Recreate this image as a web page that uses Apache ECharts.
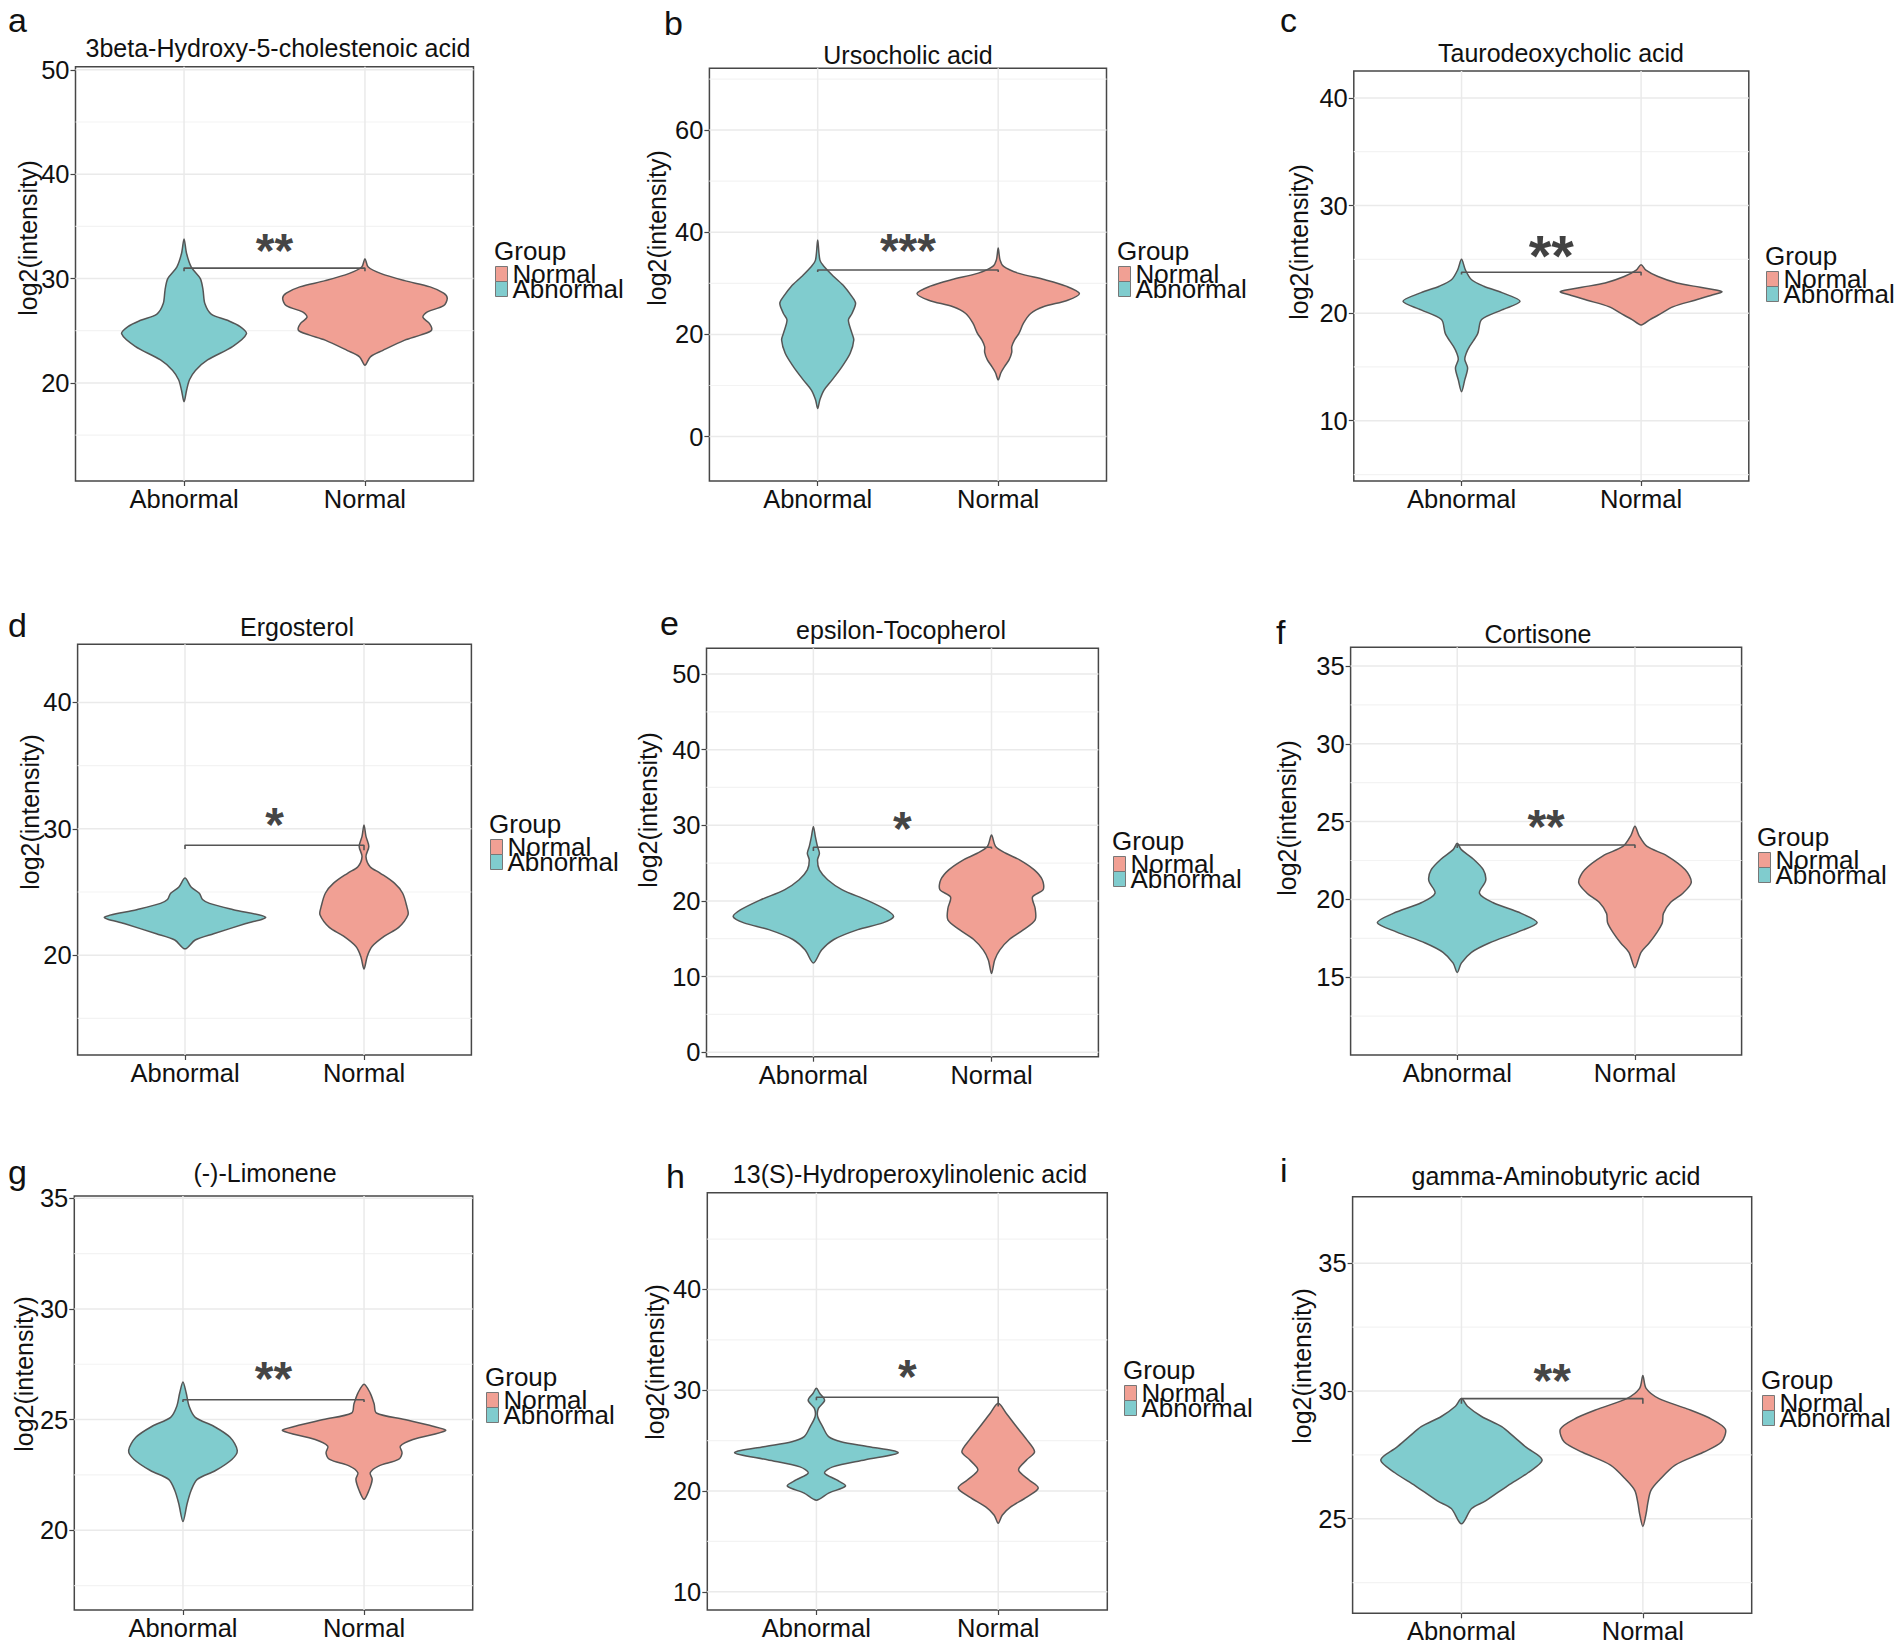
<!DOCTYPE html>
<html>
<head>
<meta charset="utf-8">
<script src="https://cdn.jsdelivr.net/npm/echarts@6/dist/echarts.min.js"></script>
<style>
  html, body { margin: 0; background: #fff; }
  #chart { width: 1902px; height: 1646px; }
</style>
</head>
<body>
<div id="chart"></div>
<script>
const groups = ['Abnormal', 'Normal'];
const letters = ['a', 'b', 'c', 'd', 'e', 'f', 'g', 'h', 'i'];
const titles = ['3beta-Hydroxy-5-cholestenoic acid', 'Ursocholic acid', 'Taurodeoxycholic acid',
  'Ergosterol', 'epsilon-Tocopherol', 'Cortisone',
  '(-)-Limonene', '13(S)-Hydroperoxylinolenic acid', 'gamma-Aminobutyric acid'];
const yMin = [10.6, -8.7, 4.4, 12.1, -0.6, 10.0, 16.4, 8.2, 21.3];
const yMax = [50.3, 72.1, 42.5, 44.6, 53.4, 36.2, 35.1, 49.6, 37.6];
const yTicks = [[20, 30, 40, 50], [0, 20, 40, 60], [10, 20, 30, 40], [20, 30, 40], [0, 10, 20, 30, 40, 50],
  [15, 20, 25, 30, 35], [20, 25, 30, 35], [10, 20, 30, 40], [25, 30, 35]];
const yMinorTicks = [[15, 25, 35, 45], [10, 30, 50, 70], [5, 15, 25, 35], [15, 25, 35], [5, 15, 25, 35, 45],
  [12.5, 17.5, 22.5, 27.5, 32.5], [17.5, 22.5, 27.5, 32.5], [15, 25, 35, 45], [22.5, 27.5, 32.5]];
const stars = ['**', '***', '**', '*', '*', '**', '**', '*', '**'];
const starY = [33.2, 37.5, 26.2, 30.7, 30.3, 25.0, 27.1, 31.9, 30.6];
const bracketY = [31.0, 32.6, 23.8, 28.7, 27.1, 23.5, 25.9, 29.3, 29.7];
const bracketLeftEnd = [30.7, 32.2, 23.6, 28.4, 26.6, 23.3, 25.8, 29.0, 29.5];
const bracketRightEnd = [30.7, 32.2, 23.5, 28.3, 26.9, 23.3, 25.8, 28.4, 29.5];

// violin outlines: [log2(intensity), half width in x units], bottom tip to top tip
const abnormalA = [[18.2,0],[19.3,0.014],[20.3,0.03],[21.2,0.063],[22.2,0.13],[23.5,0.27],[24.7,0.345],[25.4,0.31],[26.0,0.24],[26.6,0.15],[27.6,0.115],[28.9,0.105],[30.0,0.09],[31.1,0.04],[32.4,0.014],[33.8,0]];
const normalA = [[21.7,0],[22.5,0.03],[23.1,0.097],[24.1,0.22],[24.6,0.31],[25.05,0.368],[25.7,0.356],[26.3,0.32],[26.8,0.345],[27.4,0.435],[28.1,0.455],[28.6,0.435],[29.2,0.36],[29.8,0.22],[30.5,0.086],[31.1,0.018],[31.9,0]];
const abnormalB = [[5.5,0],[7.2,0.012],[9.1,0.035],[11.1,0.08],[13.7,0.135],[16.3,0.18],[18.9,0.20],[20.2,0.19],[22.8,0.17],[24.1,0.19],[26.1,0.21],[27.4,0.19],[29.4,0.147],[31.3,0.09],[33.3,0.035],[34.6,0.012],[38.5,0]];
const normalB = [[11.1,0],[12.5,0.015],[13.7,0.035],[15.0,0.06],[16.5,0.075],[17.6,0.075],[18.9,0.09],[20.2,0.115],[22.2,0.14],[24.1,0.18],[25.4,0.25],[26.7,0.385],[28.0,0.45],[29.4,0.38],[30.7,0.26],[32.0,0.11],[33.3,0.03],[34.6,0.01],[36.9,0]];
const abnormalC = [[12.7,0],[13.8,0.018],[14.9,0.034],[15.7,0.018],[16.3,0.027],[16.9,0.045],[18.1,0.09],[19.4,0.112],[20.3,0.225],[21.1,0.326],[21.9,0.225],[22.5,0.124],[23.1,0.056],[24.0,0.022],[25.0,0]];
const normalC = [[18.9,0],[19.4,0.05],[19.8,0.094],[20.6,0.18],[21.2,0.30],[21.7,0.40],[22.0,0.45],[22.4,0.33],[22.8,0.20],[23.4,0.094],[24.0,0.027],[24.5,0]];
const abnormalD = [[20.5,0],[21.2,0.057],[21.7,0.16],[22.5,0.34],[23.0,0.45],[23.6,0.27],[24.1,0.137],[24.4,0.098],[24.9,0.08],[25.4,0.034],[26.1,0]];
const normalD = [[18.9,0],[19.9,0.018],[20.7,0.046],[21.5,0.114],[22.2,0.194],[23.2,0.246],[23.8,0.24],[24.9,0.216],[25.7,0.17],[26.5,0.09],[27.0,0.034],[27.8,0.011],[28.6,0.027],[29.4,0.011],[30.3,0]];
const abnormalE = [[11.8,0],[13.5,0.046],[14.9,0.115],[16.2,0.25],[17.1,0.39],[17.9,0.45],[18.8,0.41],[20.1,0.30],[21.5,0.16],[22.8,0.08],[24.1,0.034],[25.4,0.023],[26.3,0.034],[27.2,0.023],[28.5,0.011],[29.85,0]];
const normalE = [[10.4,0],[12.2,0.018],[13.5,0.046],[14.9,0.10],[16.2,0.18],[17.5,0.245],[19.0,0.245],[20.5,0.23],[21.5,0.29],[22.8,0.285],[24.1,0.24],[25.4,0.16],[26.3,0.08],[27.2,0.023],[28.7,0]];
const abnormalF = [[15.3,0],[15.9,0.023],[16.6,0.08],[17.2,0.18],[17.9,0.34],[18.5,0.45],[19.1,0.36],[19.8,0.20],[20.4,0.125],[21.2,0.16],[21.9,0.147],[22.6,0.09],[23.2,0.023],[23.6,0]];
const normalF = [[15.6,0],[16.6,0.034],[17.2,0.08],[17.9,0.125],[18.5,0.154],[19.1,0.16],[19.8,0.20],[20.4,0.27],[21.1,0.317],[21.9,0.283],[22.8,0.18],[23.4,0.068],[24.1,0.023],[24.7,0]];
const abnormalG = [[20.4,0],[21.2,0.023],[21.8,0.045],[22.3,0.079],[22.7,0.18],[23.2,0.27],[23.6,0.30],[24.2,0.26],[24.7,0.17],[25.1,0.068],[25.6,0.034],[26.2,0.018],[26.7,0]];
const normalG = [[21.4,0],[21.8,0.027],[22.3,0.045],[22.6,0.034],[22.9,0.08],[23.2,0.19],[23.5,0.21],[23.8,0.20],[24.1,0.27],[24.5,0.45],[24.7,0.38],[25.0,0.225],[25.3,0.068],[25.7,0.056],[26.2,0.034],[26.6,0]];
const abnormalH = [[19.1,0],[19.8,0.067],[20.5,0.16],[21.1,0.112],[21.8,0.045],[22.4,0.09],[23.1,0.27],[23.8,0.45],[24.4,0.29],[24.9,0.135],[25.4,0.067],[26.4,0.034],[27.4,0.007],[28.2,0.011],[29.0,0.045],[29.7,0.018],[30.2,0]];
const normalH = [[16.8,0],[17.6,0.022],[18.4,0.067],[19.4,0.157],[20.3,0.22],[21.1,0.17],[22.1,0.112],[23.1,0.157],[23.9,0.20],[25.1,0.157],[26.4,0.10],[27.7,0.045],[28.7,0]];
const abnormalI = [[24.8,0],[25.4,0.056],[25.7,0.133],[26.3,0.256],[26.8,0.367],[27.3,0.445],[27.8,0.356],[28.2,0.29],[28.6,0.222],[29.0,0.111],[29.4,0.033],[29.7,0]];
const normalI = [[24.7,0],[25.2,0.018],[25.6,0.027],[26.1,0.044],[26.5,0.089],[27.1,0.178],[27.6,0.333],[28.0,0.433],[28.5,0.455],[28.9,0.378],[29.3,0.244],[29.7,0.089],[30.1,0.018],[30.6,0]];
const abnormalProfiles = [abnormalA, abnormalB, abnormalC, abnormalD, abnormalE, abnormalF, abnormalG, abnormalH, abnormalI];
const normalProfiles = [normalA, normalB, normalC, normalD, normalE, normalF, normalG, normalH, normalI];

// layout (pixels)
const boxes = [[75.5, 66.7, 473.5, 481], [709.4, 68.3, 1106.5, 481], [1353.8, 71, 1748.8, 481],
  [77.6, 644.3, 471.4, 1055], [706.5, 648.3, 1098.4, 1056.7], [1350.6, 647.3, 1741.6, 1055],
  [74.3, 1196, 472.7, 1610], [707.3, 1192.7, 1107.3, 1610], [1352.6, 1196.7, 1751.7, 1613.3]];
const titlePos = [[278, 48], [908, 55], [1561, 53], [297, 627], [901, 630], [1538, 634], [265, 1173], [910, 1174], [1556, 1176]];
const letterPos = [[8, 20], [664, 23], [1280, 20], [8, 625], [660, 623], [1276, 632], [8, 1172], [666, 1176], [1280, 1170]];
const legendPos = [[495, 267], [1118, 267], [1766, 272], [490, 840], [1113, 857], [1758, 853], [486, 1393], [1124, 1386], [1762, 1396]];
const yTitlePos = [[28, 238], [657, 228], [1299, 242], [30, 812], [648, 810], [1287, 818], [24, 1374], [655, 1362], [1302, 1366]];

const FONT = '"Liberation Sans", Arial, sans-serif';
const TEAL = '#80CCCE';
const CORAL = '#F1A094';
const OUTLINE = '#555555';

function violin(profile, xc) {
  return function (params, api) {
    const right = profile.map(p => api.coord([xc + p[1], p[0]]));
    const left = profile.slice(1, -1).reverse().map(p => api.coord([xc - p[1], p[0]]));
    return {
      type: 'polygon',
      shape: { points: right.concat(left), smooth: 0.3 },
      style: { fill: api.visual('color'), stroke: OUTLINE, lineWidth: 1.5 }
    };
  };
}

const option = {
  animation: false,
  backgroundColor: '#fff',
  textStyle: { fontFamily: FONT },
  grid: [], xAxis: [], yAxis: [], series: [], title: [], legend: [], graphic: []
};

letters.forEach((letter, p) => {
  const b = boxes[p];
  option.grid.push({ left: b[0], top: b[1], width: b[2] - b[0], height: b[3] - b[1],
    show: true, borderColor: '#474747', borderWidth: 1.5, backgroundColor: 'transparent' });
  option.xAxis.push({
    gridIndex: p, type: 'value', min: 0.4, max: 2.6,
    axisLine: { show: false, onZero: false },
    axisTick: { show: true, customValues: [1, 2], length: 5, lineStyle: { color: '#444', width: 1.2 } },
    axisLabel: { customValues: [1, 2], formatter: v => groups[Math.round(v) - 1], fontSize: 25.5, color: '#111', margin: 5, fontFamily: FONT },
    splitLine: { show: false }
  });
  option.yAxis.push({
    gridIndex: p, type: 'value', min: yMin[p], max: yMax[p],
    axisLine: { show: false, onZero: false },
    axisTick: { show: true, customValues: yTicks[p], length: 5, lineStyle: { color: '#444', width: 1.2 } },
    axisLabel: { customValues: yTicks[p], fontSize: 25.5, color: '#111', margin: 6, fontFamily: FONT },
    splitLine: { show: false }
  });

  // panel grid lines: [value, kind] kind 0 major, 1 minor, 2 vertical
  const gridData = yTicks[p].map(v => [v, 0]).concat(yMinorTicks[p].map(v => [v, 1]), [[1, 2], [2, 2]]);
  option.series.push({
    type: 'custom', name: 'grid' + p, xAxisIndex: p, yAxisIndex: p, silent: true, z: 1,
    data: gridData,
    renderItem: (params, api) => {
      const v = api.value(0), kind = api.value(1);
      const a = kind === 2 ? api.coord([v, yMin[p]]) : api.coord([0.4, v]);
      const c = kind === 2 ? api.coord([v, yMax[p]]) : api.coord([2.6, v]);
      return { type: 'line', shape: { x1: a[0], y1: a[1], x2: c[0], y2: c[1] },
        style: { stroke: kind === 1 ? '#F3F3F3' : '#EAEAEA', lineWidth: kind === 1 ? 1.2 : 1.5 } };
    }
  });

  option.series.push({
    type: 'custom', name: 'Abnormal', xAxisIndex: p, yAxisIndex: p, z: 2,
    itemStyle: { color: TEAL }, data: [[1, yMin[p]]], renderItem: violin(abnormalProfiles[p], 1)
  });
  option.series.push({
    type: 'custom', name: 'Normal', xAxisIndex: p, yAxisIndex: p, z: 2,
    itemStyle: { color: CORAL }, data: [[2, yMin[p]]], renderItem: violin(normalProfiles[p], 2)
  });

  option.series.push({
    type: 'line', name: 'bracket' + p, xAxisIndex: p, yAxisIndex: p, z: 3, silent: true,
    symbol: 'none', lineStyle: { color: '#555', width: 1.6 },
    data: [[1, bracketLeftEnd[p]], [1, bracketY[p]], [2, bracketY[p]], [2, bracketRightEnd[p]]]
  });
  option.series.push({
    type: 'scatter', name: 'sig' + p, xAxisIndex: p, yAxisIndex: p, z: 4, silent: true,
    symbolSize: 0, data: [[1.5, starY[p]]],
    label: { show: true, position: 'inside', formatter: stars[p], fontSize: p === 2 ? 58 : 48,
      fontWeight: 'bold', color: '#111', offset: [0, p === 2 ? 9 : 5], fontFamily: FONT }
  });

  option.title.push({ text: titles[p], left: titlePos[p][0], top: titlePos[p][1], textAlign: 'center',
    textVerticalAlign: 'middle', padding: 0,
    textStyle: { fontSize: 25, fontWeight: 'normal', color: '#111', fontFamily: FONT } });
  option.title.push({ text: letter, left: letterPos[p][0], top: letterPos[p][1], textAlign: 'left',
    textVerticalAlign: 'middle', padding: 0,
    textStyle: { fontSize: 34, lineHeight: 30, fontWeight: 'normal', color: '#111', fontFamily: FONT } });
  option.title.push({ text: 'Group', left: legendPos[p][0] - 1, top: legendPos[p][1] - 16, textAlign: 'left',
    textVerticalAlign: 'middle', padding: 0,
    textStyle: { fontSize: 26, lineHeight: 20, fontWeight: 'normal', color: '#111', fontFamily: FONT } });

  option.legend.push({
    left: legendPos[p][0], top: legendPos[p][1] - 6, orient: 'vertical', padding: 0, itemGap: -11,
    itemWidth: 12, itemHeight: 15, icon: 'rect', selectedMode: false,
    itemStyle: { borderColor: '#777', borderWidth: 1 },
    textStyle: { fontSize: 26, color: '#111', fontFamily: FONT },
    data: [{ name: 'Normal', itemStyle: { color: CORAL } }, { name: 'Abnormal', itemStyle: { color: TEAL } }]
  });

  option.graphic.push({
    type: 'text', x: yTitlePos[p][0], y: yTitlePos[p][1], rotation: Math.PI / 2, silent: true,
    style: { text: 'log2(intensity)', fontSize: 25, fontFamily: FONT, fill: '#111',
      align: 'center', verticalAlign: 'middle', textAlign: 'center', textVerticalAlign: 'middle' }
  });
});

const chart = echarts.init(document.getElementById('chart'), null, { renderer: 'svg' });
chart.setOption(option);
</script>
</body>
</html>
